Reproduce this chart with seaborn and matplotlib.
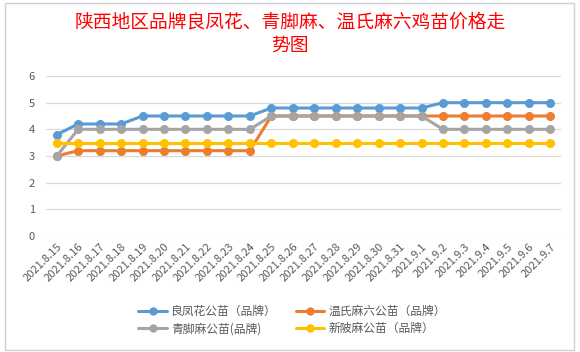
import numpy as np
import pandas as pd
import matplotlib.pyplot as plt
import seaborn as sns
from matplotlib.patches import Rectangle

dates = ["2021.8.15", "2021.8.16", "2021.8.17", "2021.8.18", "2021.8.19", "2021.8.20",
         "2021.8.21", "2021.8.22", "2021.8.23", "2021.8.24", "2021.8.25", "2021.8.26",
         "2021.8.27", "2021.8.28", "2021.8.29", "2021.8.30", "2021.8.31", "2021.9.1",
         "2021.9.2", "2021.9.3", "2021.9.4", "2021.9.5", "2021.9.6", "2021.9.7"]

lfh = [3.8, 4.2, 4.2, 4.2, 4.5, 4.5, 4.5, 4.5, 4.5, 4.5, 4.8, 4.8,
       4.8, 4.8, 4.8, 4.8, 4.8, 4.8, 5.0, 5.0, 5.0, 5.0, 5.0, 5.0]
wsm = [3.0, 3.2, 3.2, 3.2, 3.2, 3.2, 3.2, 3.2, 3.2, 3.2, 4.5, 4.5,
       4.5, 4.5, 4.5, 4.5, 4.5, 4.5, 4.5, 4.5, 4.5, 4.5, 4.5, 4.5]
qjm = [3.0, 4.0, 4.0, 4.0, 4.0, 4.0, 4.0, 4.0, 4.0, 4.0, 4.5, 4.5,
       4.5, 4.5, 4.5, 4.5, 4.5, 4.5, 4.0, 4.0, 4.0, 4.0, 4.0, 4.0]
xbm = [3.5] * 24

names = ["良凤花公苗（品牌）", "温氏麻六公苗（品牌）", "青脚麻公苗(品牌)", "新陂麻公苗（品牌）"]
colors = ["#5B9BD5", "#ED7D31", "#A5A5A5", "#FFC000"]

# format long pour seaborn
rows = []
for nm, vals in zip(names, [lfh, wsm, qjm, xbm]):
    for i, v in enumerate(vals):
        rows.append({"x": i, "price": v, "series": nm})
df = pd.DataFrame(rows)

sns.set_style("white")
plt.rcParams['font.family'] = ['Noto Sans CJK SC', 'DejaVu Sans']

fig = plt.figure(figsize=(5.8, 3.52), dpi=100)
# bordure du graphique (style Excel)
fig.patches.append(Rectangle((0.008, 0.006), 0.982, 0.986, transform=fig.transFigure,
                             fill=False, edgecolor="#D0D0D8", linewidth=1.0))
ax = fig.add_axes([46 / 580, 1 - 236 / 352, (561 - 46) / 580, 160 / 352])

sns.lineplot(data=df, x="x", y="price", hue="series", hue_order=names,
             palette=colors, marker="o", markersize=6.5, markeredgewidth=0,
             linewidth=2.2, ax=ax, legend=False)

ax.set_xlim(-0.5, len(dates) - 0.5)
ax.set_ylim(0, 6)
ax.set_yticks(range(0, 7))
ax.grid(axis="y", color="#D9D9D9", linewidth=0.9)
for s in ax.spines.values():
    s.set_visible(False)
ax.set_xticks(range(len(dates)))
ax.set_xticklabels(dates, rotation=45, ha="right", rotation_mode="anchor",
                   fontsize=8, color="#595959")
ax.tick_params(axis="y", labelsize=8, labelcolor="#595959", length=0, pad=8)
ax.tick_params(axis="x", length=0, pad=4)
ax.set_xlabel("")
ax.set_ylabel("")

fig.text(0.5, 1 - 34 / 352, "陕西地区品牌良凤花、青脚麻、温氏麻六鸡苗价格走\n势图",
         ha="center", va="center", color="#FF0000", fontsize=13.5,
         linespacing=1.15)

handles = [plt.Line2D([], [], color=c, marker="o", markersize=6, linewidth=2.2,
                      markeredgewidth=0) for c in colors]
order = [0, 2, 1, 3]
fig.legend([handles[i] for i in order], [names[i] for i in order], ncol=2,
           loc="center", bbox_to_anchor=(292 / 580, 1 - 320 / 352), frameon=False,
           fontsize=8.5, handlelength=2.4, handletextpad=0.35, columnspacing=1.6,
           labelspacing=0.35, labelcolor="#595959")

plt.savefig("out.png", dpi=100)
